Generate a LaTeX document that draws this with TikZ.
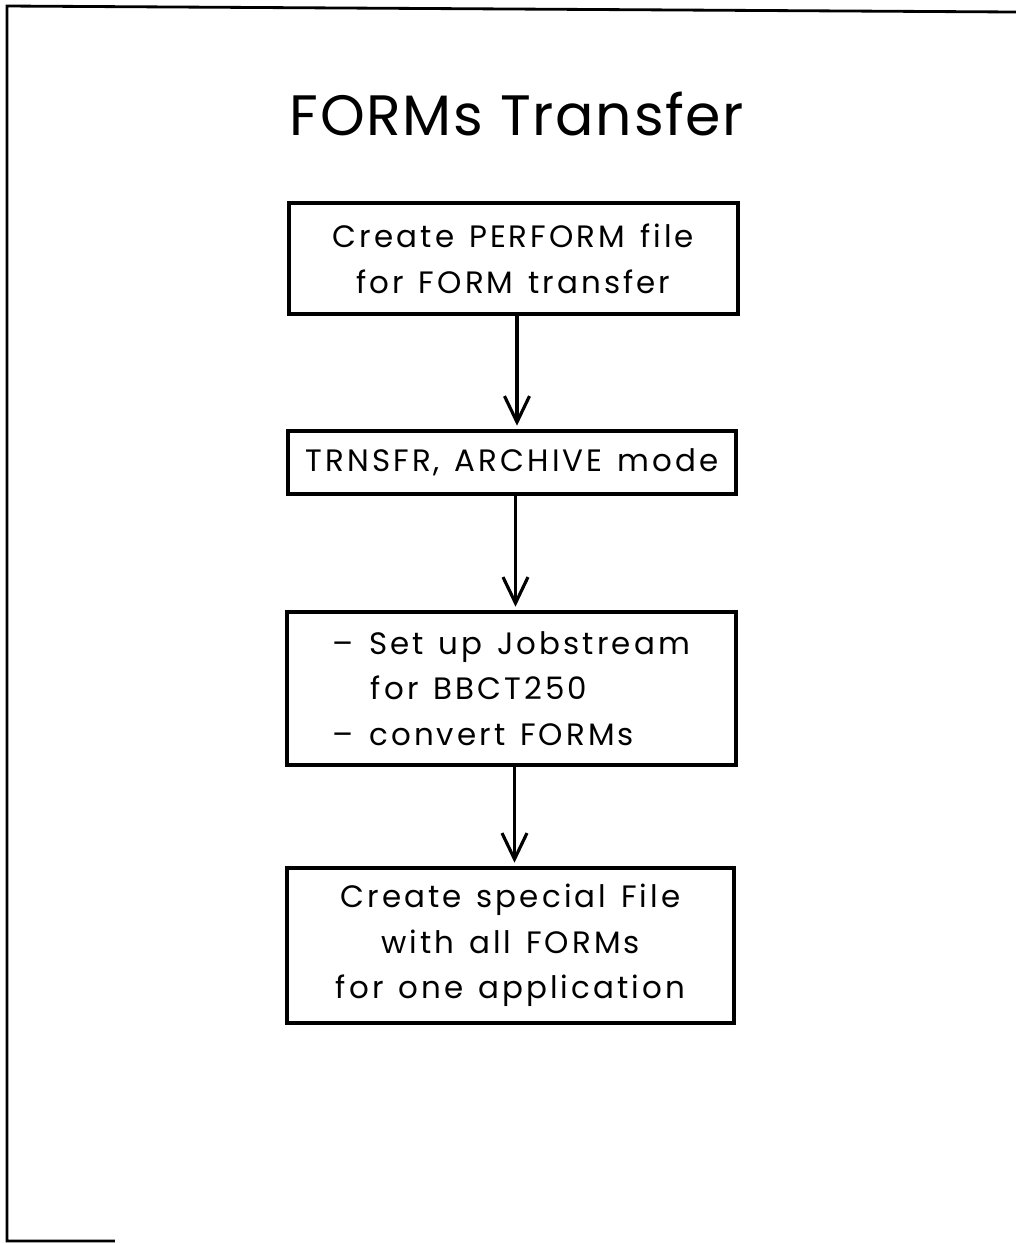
\documentclass[tikz,border=0pt]{standalone}
\usepackage{fontspec}
\setmainfont{Poppins}[LetterSpace=10, WordSpace=1.3]
\newfontfamily\titlefont{Poppins}[LetterSpace=3]
\usetikzlibrary{arrows.meta,positioning}

\begin{document}
\begin{tikzpicture}[
  stepbox/.style = {draw, line width=1pt, inner sep=0pt, align=center,
      font=\fontsize{8.8}{13}\selectfont},
  flow/.style = {draw, line width=0.9pt, shorten >=1pt,
      -{Straight Barb[length=2.6mm,width=2.5mm,line width=0.9pt]}}
  ]
  \useasboundingbox (0,0) rectangle (10.16,-12.43);
  % page frame
  \draw[line width=0.8pt] (1.15,-12.41) -- (0.07,-12.41) -- (0.07,-0.06) -- (10.16,-0.12);
  \node[anchor=base, font=\titlefont\fontsize{16.2}{19}\selectfont] (title) at (5.17,-1.35) {FORMs Transfer};
  %
  \node[stepbox, minimum width=4.49cm, minimum height=1.11cm] (perform) at (5.135,-2.585)
    {Create PERFORM file\\for FORM transfer};
  \node[stepbox, minimum width=4.48cm, minimum height=0.63cm] (archive) at (5.12,-4.625)
    {TRNSFR, ARCHIVE mode};
  \node[stepbox, align=left, minimum width=4.49cm, minimum height=1.53cm] (jobs) at (5.115,-6.885)
    {--\enspace Set up Jobstream\\\hspace*{0.38cm}for BBCT250\\--\enspace convert FORMs};
  \node[stepbox, minimum width=4.47cm, minimum height=1.55cm] (special) at (5.105,-9.455)
    {Create special File\\with all FORMs\\for one application};
  %
  \draw[flow] (perform.south -| title.south) -- (archive.north -| title.south);
  \draw[flow] (archive.south -| jobs.north) ++(0.04,0) coordinate (a2) -- (a2 |- jobs.north);
  \draw[flow] (jobs.south -| jobs.north) ++(0.03,0) coordinate (a3) -- (a3 |- special.north);
\end{tikzpicture}
\end{document}
